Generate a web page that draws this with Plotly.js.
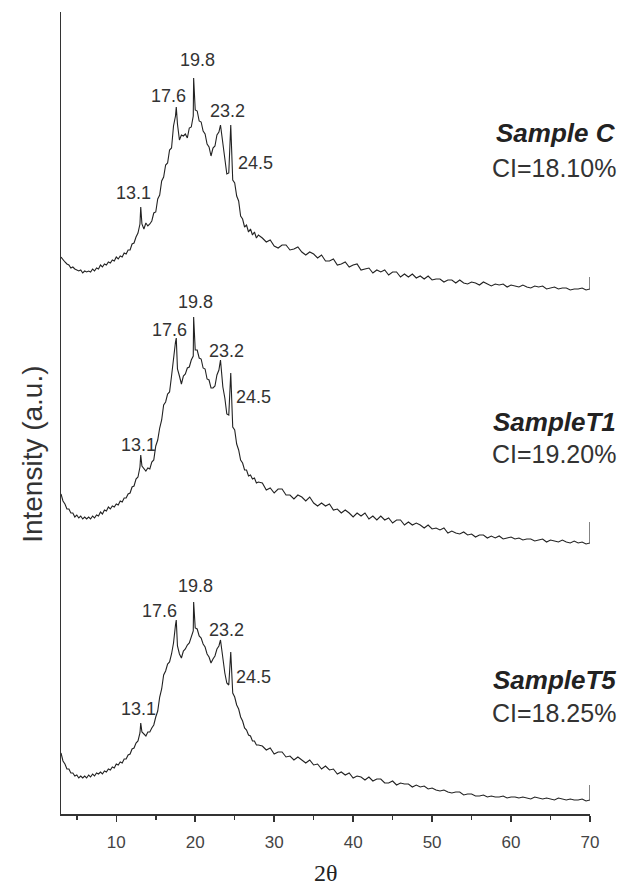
<!DOCTYPE html>
<html>
<head>
<meta charset="utf-8">
<script src="https://cdn.plot.ly/plotly-3.0.1.min.js"></script>
<style>
  html, body { margin: 0; padding: 0; background: #fff; }
  #chart { width: 624px; height: 891px; }
</style>
</head>
<body>
<div id="chart"></div>
<script>
// Diffraction angle 2θ (degrees) shared by the three scans
const twoTheta = [
  3,3.25,3.5,3.75,4,4.25,4.5,4.75,5,5.25,5.5,5.75,6,6.25,6.5,6.75,7,7.25,7.5,7.75,
  8,8.25,8.5,8.75,9,9.25,9.5,9.75,10,10.25,10.5,10.75,11,11.25,11.5,11.75,12,12.25,12.5,12.75,
  13,13.1,13.25,13.5,13.75,14,14.25,14.5,14.75,15,15.25,15.5,15.75,16,16.25,16.5,16.75,17,17.25,17.5,
  17.6,17.75,18,18.25,18.5,18.75,19,19.25,19.5,19.75,19.8,20,20.25,20.5,20.75,21,21.25,21.5,21.75,22,
  22.25,22.5,22.75,23,23.2,23.5,23.75,24,24.25,24.5,24.75,25,25.25,25.5,25.75,26,26.25,26.5,26.75,27,
  27.25,27.5,27.75,28,
  28.5,29,29.5,30,30.5,31,31.5,32,32.5,33,33.5,34,34.5,35,35.5,36,36.5,37,37.5,38,
  38.5,39,39.5,40,40.5,41,41.5,42,42.5,43,43.5,44,44.5,45,45.5,46,46.5,47,47.5,48,
  48.5,49,49.5,50,50.5,51,51.5,52,52.5,53,53.5,54,54.5,55,55.5,56,56.5,57,57.5,58,
  58.5,59,59.5,60,60.5,61,61.5,62,62.5,63,63.5,64,64.5,65,65.5,66,66.5,67,67.5,68,
  68.5,69,69.5,70,70
];

// Intensities (a.u.)
const sampleC = [
  57,54,52,50,49,46,47,45,44,43,44,41,43,42,43,42,45,43,46,45,
  49,47,50,49,52,51,54,53,57,55,58,57,61,60,64,64,70,71,77,81,
  90,107,90,85,91,88,90,93,101,102,115,119,133,137,149,151,164,166,188,198,
  207,190,174,179,178,180,176,186,187,198,236,204,203,193,192,183,180,170,167,158,
  166,168,179,182,189,172,158,140,141,189,134,131,118,113,98,95,87,89,82,85,
  79,82,76,79,
  76,72,74,68,66,69,69,64,65,67,62,59,62,60,56,59,53,53,55,49,
  50,52,47,49,50,44,45,46,41,44,42,44,39,42,42,37,40,37,40,36,
  38,35,38,34,35,35,32,34,34,31,34,31,30,32,31,29,32,30,28,30,
  29,30,27,29,28,27,29,27,26,28,27,28,25,26,27,25,26,26,24,25,
  25,26,24,25,37
];

const sampleT1 = [
  70,63,60,55,55,51,51,47,49,46,48,45,47,45,47,45,48,46,49,48,
  52,50,54,53,57,55,58,57,60,59,63,62,66,66,70,71,77,78,85,87,
  97,109,98,95,93,96,95,102,104,118,124,136,144,159,162,170,172,188,207,222,
  226,195,188,180,188,190,196,197,204,208,247,214,214,206,205,196,195,185,184,176,
  176,178,189,194,204,177,166,150,149,191,137,134,120,114,104,101,94,94,88,89,
  85,86,81,82,
  81,74,76,71,75,75,69,69,65,69,67,63,67,61,58,61,58,60,54,55,
  51,54,51,47,51,48,51,45,48,44,48,44,46,41,44,44,39,42,39,41,
  39,36,39,35,36,34,36,31,33,31,30,32,29,30,27,29,29,26,28,26,
  28,25,26,27,25,26,24,25,25,23,24,25,22,24,23,22,24,22,21,23,
  21,22,20,21,42
];

const sampleT5 = [
  61,53,50,45,45,41,41,38,39,36,38,36,38,36,39,37,40,38,41,40,
  42,40,43,42,45,44,47,46,50,49,52,51,55,55,59,60,65,66,71,73,
  81,91,82,80,78,82,82,86,89,97,103,117,125,139,143,150,152,160,171,189,
  194,168,160,156,163,165,169,171,178,183,212,186,185,178,176,170,167,160,157,151,
  155,158,165,168,174,153,141,131,129,162,121,117,109,105,97,93,86,84,79,78,
  73,73,69,69,
  68,64,66,60,62,62,57,58,54,57,54,51,54,49,50,45,48,44,45,40,
  42,39,41,36,38,37,34,37,33,35,35,31,31,33,29,31,30,30,27,29,
  27,28,25,26,24,23,24,22,21,22,22,19,20,20,18,18,19,17,18,17,
  17,18,16,17,17,16,17,16,15,17,16,15,16,15,14,16,15,14,15,14,
  14,15,13,14,29
];

const sampleNames = ['Sample C', 'SampleT1', 'SampleT5'];
const crystallinity = ['CI=18.10%', 'CI=19.20%', 'CI=18.25%'];
const peakPositions = [13.1, 17.6, 19.8, 23.2, 24.5];
const peakLabels = ['13.1', '17.6', '19.8', '23.2', '24.5'];
const xTickValues = [10, 20, 30, 40, 50, 60, 70];
const xMinorValues = [5, 15, 25, 35, 45, 55, 65];

// Vertical stacking of the scans and label placement
const series = [sampleC, sampleT1, sampleT5];
const stackOffsets = [500, 250, 0];
const peakLabelShift = [
  [[-7, 14], [-8, 11], [4, 18], [7, 14], [25, -38]],
  [[-2, 10], [-7, 8], [2, 15], [6, 9], [23, -24]],
  [[-2, 14], [-17, 9], [2, 16], [6, 10], [23, -25]]
];
const nameY = [0.849, 0.4888, 0.1671];
const ciY = [0.8055, 0.4489, 0.1259];

const textFont = 'Liberation Sans, Arial, sans-serif';
const lineColor = '#222';

const traces = series.map((vals, i) => ({
  type: 'scatter',
  mode: 'lines',
  x: twoTheta,
  y: vals.map(v => v + stackOffsets[i]),
  line: { color: lineColor, width: 1.1 },
  hoverinfo: 'skip',
  showlegend: false
}));

const annotations = [];
series.forEach((vals, i) => {
  peakPositions.forEach((p, k) => {
    const idx = twoTheta.indexOf(p);
    annotations.push({
      x: p, y: vals[idx] + stackOffsets[i], xref: 'x', yref: 'y',
      text: peakLabels[k], showarrow: false,
      xanchor: 'center', yanchor: 'middle',
      xshift: peakLabelShift[i][k][0], yshift: peakLabelShift[i][k][1],
      font: { family: textFont, size: 18, color: '#333' }
    });
  });
  annotations.push({
    x: 1.052, y: nameY[i], xref: 'paper', yref: 'paper',
    text: '<b><i>' + sampleNames[i] + '</i></b>', showarrow: false,
    xanchor: 'right', yanchor: 'middle',
    font: { family: textFont, size: 26, color: '#222' }
  });
  annotations.push({
    x: 1.052, y: ciY[i], xref: 'paper', yref: 'paper',
    text: crystallinity[i], showarrow: false,
    xanchor: 'right', yanchor: 'middle',
    font: { family: textFont, size: 25, color: '#333' }
  });
});

// Axis titles
annotations.push({
  x: -0.053, y: 0.449, xref: 'paper', yref: 'paper',
  text: 'Intensity (a.u.)', textangle: -90, showarrow: false,
  xanchor: 'center', yanchor: 'middle',
  font: { family: textFont, size: 28, color: '#333' }
});
annotations.push({
  x: 0.5, y: -0.0736, xref: 'paper', yref: 'paper',
  text: '2θ', showarrow: false,
  xanchor: 'center', yanchor: 'middle',
  font: { family: 'Liberation Serif, Times New Roman, serif', size: 24, color: '#222' }
});

const layout = {
  width: 624, height: 891,
  margin: { l: 61, r: 34, t: 12, b: 77 },
  paper_bgcolor: '#fff', plot_bgcolor: '#fff',
  showlegend: false,
  xaxis: {
    range: [3, 70], showgrid: false, zeroline: false,
    showline: true, linecolor: '#333', linewidth: 1.5,
    ticks: 'outside', ticklen: 6, tickwidth: 1.5, tickcolor: '#333',
    tickmode: 'array', tickvals: xTickValues,
    ticklabelstandoff: 6,
    tickfont: { family: textFont, size: 17, color: '#444' },
    minor: { tickmode: 'array', tickvals: xMinorValues, ticks: 'outside', ticklen: 4, tickwidth: 1.5, tickcolor: '#333' }
  },
  yaxis: {
    range: [0, 802], showgrid: false, zeroline: false,
    showline: true, linecolor: '#333', linewidth: 1.5,
    ticks: '', showticklabels: false
  },
  annotations: annotations
};

Plotly.newPlot('chart', traces, layout, { displayModeBar: false, staticPlot: true });
</script>
</body>
</html>
